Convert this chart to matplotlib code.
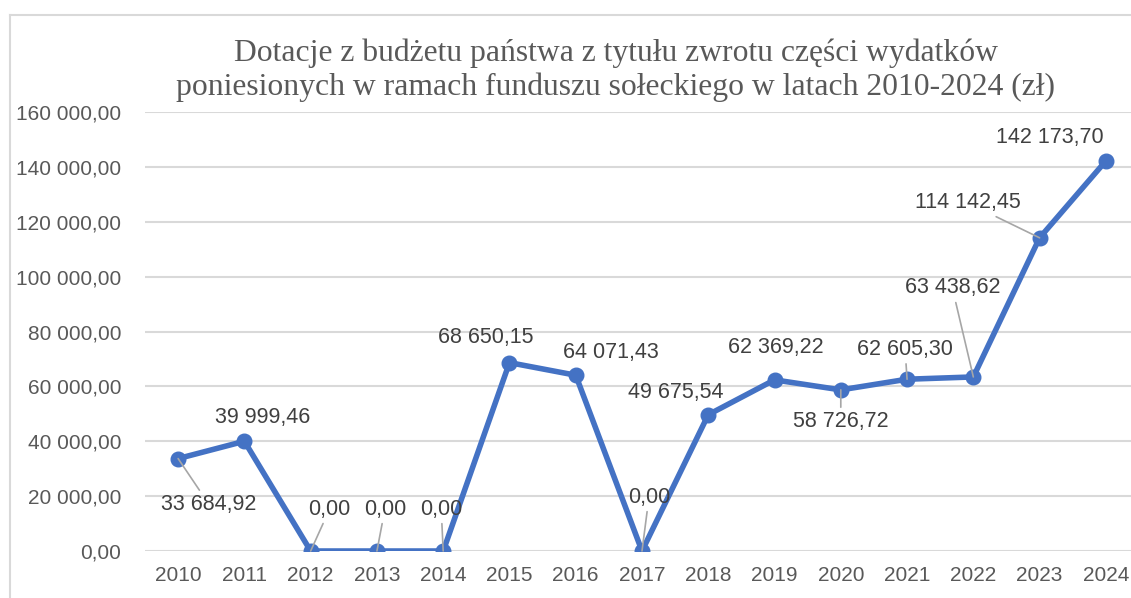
import matplotlib.pyplot as plt
from matplotlib.lines import Line2D

plt.rcParams["font.family"] = ["Liberation Sans", "DejaVu Sans"]

years = ["2010", "2011", "2012", "2013", "2014", "2015", "2016", "2017",
         "2018", "2019", "2020", "2021", "2022", "2023", "2024"]
values = [33684.92, 39999.46, 0.00, 0.00, 0.00, 68650.15, 64071.43, 0.00,
          49675.54, 62369.22, 58726.72, 62605.30, 63438.62, 114142.45, 142173.70]
y_ticks = [0, 20000, 40000, 60000, 80000, 100000, 120000, 140000, 160000]
title = ("Dotacje z budżetu państwa z tytułu zwrotu części wydatków\n"
         "poniesionych w ramach funduszu sołeckiego w latach 2010-2024 (zł)")

# label offsets in pixels from the point, and whether a leader line is drawn
label_offsets = [(31, -46, True), (18, 24, False), (19, 42, True), (8, 42, True),
                 (-2, 42, True), (-24, 25, False), (35, 23, False), (7, 54, True),
                 (-33, 22, False), (1, 32, False), (0, -32, True), (-2, 30, True),
                 (-21, 89, True), (-72, 35, True), (-56, 23, False)]


def fmt(v):
    s = f"{v:,.2f}"
    return s.replace(",", " ").replace(".", ",")


fig = plt.figure(figsize=(11.31, 5.98), dpi=100)
ax = fig.add_axes([145 / 1131, 47 / 598, 994 / 1131, 439 / 598])

x = list(range(len(years)))
ax.plot(x, values, color="#4472C4", lw=4, marker="o", markersize=10.5,
        solid_joinstyle="round", zorder=3)

ax.set_xlim(-0.5, len(years) - 0.5)
ax.set_ylim(0, 160000)
ax.set_yticks(y_ticks)
ax.set_yticklabels([fmt(v) for v in y_ticks])
ax.set_xticks(x)
ax.set_xticklabels(years)
ax.grid(axis="y", color="#D9D9D9", lw=1.5)
ax.set_axisbelow(True)
for sp in ax.spines.values():
    sp.set_visible(False)
ax.tick_params(axis="both", length=0, labelsize=15, labelcolor="#595959")
ax.tick_params(axis="y", pad=17)
ax.tick_params(axis="x", pad=11)

for xi, v, (dx, dy, leader) in zip(x, values, label_offsets):
    props = dict(arrowstyle="-", color="#A6A6A6", lw=1.2, shrinkA=1, shrinkB=0) if leader else None
    ax.annotate(fmt(v), (xi, v), xytext=(dx, dy), textcoords="offset pixels",
                ha="center", va="center", fontsize=15.5, color="#404040",
                arrowprops=props, zorder=4, annotation_clip=False)

fig.text(616 / 1131, 1 - 70 / 598, title, ha="center", va="center",
         fontsize=22.8, color="#595959", family="Liberation Serif", linespacing=1.22)

# chart frame
fig.add_artist(Line2D([10 / 1131, 1], [1 - 15 / 598] * 2, color="#D9D9D9", lw=1.5,
                      transform=fig.transFigure))
fig.add_artist(Line2D([10 / 1131] * 2, [0, 1 - 15 / 598], color="#D9D9D9", lw=1.5,
                      transform=fig.transFigure))

fig.savefig("out.png", dpi=100)
